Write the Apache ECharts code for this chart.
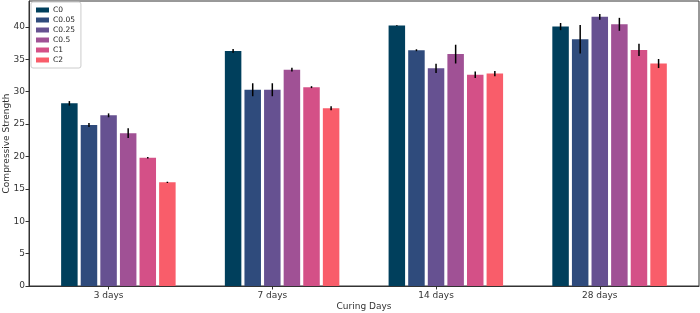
<!DOCTYPE html>
<html>
<head>
<meta charset="utf-8">
<script src="https://cdn.jsdelivr.net/npm/echarts@6/dist/echarts.min.js"></script>
<style>html,body{margin:0;padding:0;background:#fff}#c{width:700px;height:313px}</style>
</head>
<body>
<div id="c"></div>
<script>
const categories = ['3 days', '7 days', '14 days', '28 days'];
const seriesNames = ['C0', 'C0.05', 'C0.25', 'C0.5', 'C1', 'C2'];
const colors = ['#003f5c', '#2f4b7c', '#665191', '#a05195', '#d45087', '#f95d6a'];
const valC0   = [28.2, 36.3, 40.2, 40.05];
const valC005 = [24.85, 30.3, 36.4, 38.1];
const valC025 = [26.35, 30.3, 33.6, 41.55];
const valC05  = [23.6, 33.4, 35.8, 40.4];
const valC1   = [19.8, 30.7, 32.6, 36.45];
const valC2   = [16.0, 27.45, 32.8, 34.35];
const errC0   = [0.35, 0.3, 0.05, 0.55];
const errC005 = [0.3, 1.0, 0.15, 2.2];
const errC025 = [0.3, 1.0, 0.7, 0.45];
const errC05  = [0.75, 0.3, 1.45, 1.0];
const errC1   = [0.1, 0.15, 0.5, 0.95];
const errC2   = [0.1, 0.3, 0.4, 0.7];
const yTicks = [0, 5, 10, 15, 20, 25, 30, 35, 40];

const values = [valC0, valC005, valC025, valC05, valC1, valC2];
const errors = [errC0, errC005, errC025, errC05, errC1, errC2];

const BAR_W = 16.5, GAP_PX = 3.1;
const font = 'DejaVu Sans';
const chart = echarts.init(document.getElementById('c'), null, {renderer: 'canvas'});

const series = [];
// empty leading slot so the tick sits under the third bar as in the original
series.push({type: 'bar', name: '_pad', data: [], barWidth: BAR_W, barGap: (GAP_PX / BAR_W * 100) + '%'});
values.forEach((vals, k) => {
  series.push({
    type: 'bar', name: seriesNames[k],
    data: vals.map((v, i) => [i, v]),
    barWidth: BAR_W, barGap: (GAP_PX / BAR_W * 100) + '%',
    itemStyle: {color: colors[k]},
    emphasis: {disabled: true}
  });
});
values.forEach((vals, k) => {
  series.push({
    type: 'custom', name: 'err' + k,
    data: vals.map((v, i) => [i, v, errors[k][i]]),
    z: 10, silent: true,
    renderItem: function (params, api) {
      const x = api.value(0), y = api.value(1), e = api.value(2);
      const off = (k - 2) * (BAR_W + GAP_PX);
      const p1 = api.coord([x, y - e]);
      const p2 = api.coord([x, y + e]);
      return {
        type: 'line',
        shape: {x1: p1[0] + off, y1: p1[1], x2: p2[0] + off, y2: p2[1]},
        style: {stroke: '#000', lineWidth: 1.5}
      };
    }
  });
});

chart.setOption({
  animation: false,
  backgroundColor: '#fff',
  grid: {left: 29, top: 1, right: 1, bottom: 27, containLabel: false, outerBoundsMode: 'none',
         show: true, borderColor: '#333', borderWidth: 1, backgroundColor: 'transparent'},
  legend: {
    data: seriesNames, orient: 'vertical', left: 31, top: 2,
    itemWidth: 13, itemHeight: 5, itemGap: 2,
    padding: [4, 6, 4, 5],
    backgroundColor: '#fff', borderColor: '#ccc', borderWidth: 1, borderRadius: 2,
    icon: 'rect',
    textStyle: {fontFamily: font, fontSize: 7.5, color: '#222', lineHeight: 8, padding: [0, 0, 0, -1]}
  },
  xAxis: {
    type: 'value', min: -0.486, max: 3.606,
    splitLine: {show: false},
    axisLine: {show: true, onZero: false, lineStyle: {color: '#333', width: 1}},
    axisTick: {show: true, length: 3.5, customValues: categories.map((c, i) => i), lineStyle: {color: '#333'}},
    axisLabel: {customValues: categories.map((c, i) => i), formatter: v => categories[Math.round(v)] || '', fontFamily: font, fontSize: 9, color: '#333', margin: 5},
    name: 'Curing Days', nameLocation: 'middle', nameGap: 16, nameMoveOverlap: false,
    nameTextStyle: {fontFamily: font, fontSize: 9, color: '#333'}
  },
  yAxis: {
    type: 'value', min: 0, max: 44,
    splitLine: {show: false},
    axisLine: {show: true, onZero: false, lineStyle: {color: '#333', width: 1}},
    axisTick: {show: true, length: 3.5, customValues: yTicks, lineStyle: {color: '#333'}},
    axisLabel: {customValues: yTicks, fontFamily: font, fontSize: 9, color: '#333', margin: 4},
    name: 'Compressive Strength', nameLocation: 'middle', nameGap: 18, nameMoveOverlap: false,
    nameTextStyle: {fontFamily: font, fontSize: 9, color: '#333'}
  },
  series: series
});
</script>
</body>
</html>
